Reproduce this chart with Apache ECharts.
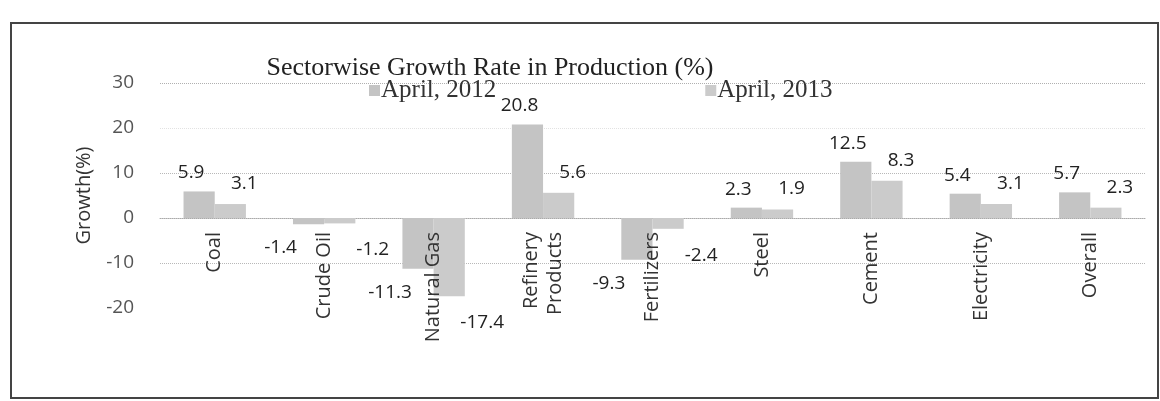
<!DOCTYPE html>
<html>
<head>
<meta charset="utf-8">
<script src="https://cdn.jsdelivr.net/npm/echarts@6/dist/echarts.min.js"></script>
<style>
html,body{margin:0;padding:0;background:#fff;}
#chart{width:1160px;height:401px;}
</style>
</head>
<body>
<div id="chart"></div>
<script>
const categories = ['Coal', 'Crude Oil', 'Natural Gas', 'Refinery\nProducts', 'Fertilizers', 'Steel', 'Cement', 'Electricity', 'Overall'];
const april2012 = [5.9, -1.4, -11.3, 20.8, -9.3, 2.3, 12.5, 5.4, 5.7];
const april2013 = [3.1, -1.2, -17.4, 5.6, -2.4, 1.9, 8.3, 3.1, 2.3];
const seriesNames = ['April, 2012', 'April, 2013'];
const titleText = 'Sectorwise Growth Rate in Production (%)';
const yAxisName = 'Growth(%)';
const yMin = -20, yMax = 30, yStep = 10;

const chart = echarts.init(document.getElementById('chart'));

function items(arr, posOff, negOff) {
  return arr.map(v => ({
    value: v,
    label: v < 0 ? { position: 'bottom', offset: negOff } : { position: 'top', offset: posOff }
  }));
}

const labelStyle = {
  show: true,
  fontFamily: 'Open Sans',
  fontSize: 19,
  color: '#222'
};

// plot area geometry
const gridTop = 83, gridBottomPx = 308, gridLeft = 160, gridRight = 15;
const zeroPx = gridTop + (gridBottomPx - gridTop) * (yMax - 0) / (yMax - yMin);

chart.setOption({
  animation: false,
  backgroundColor: '#fff',
  title: {
    text: titleText,
    left: 485,
    top: 50,
    textAlign: 'center',
    textStyle: { fontFamily: 'Liberation Serif', fontSize: 26, fontWeight: 'normal', color: '#222' }
  },
  legend: {
    left: 364,
    top: 73,
    itemWidth: 11,
    itemHeight: 11,
    itemGap: 209,
    icon: 'rect',
    textStyle: { fontFamily: 'Liberation Serif', fontSize: 25, color: '#333', padding: [0, 0, 0, -4] },
    data: seriesNames
  },
  grid: [
    { left: gridLeft, right: gridRight, top: gridTop, bottom: 401 - gridBottomPx, outerBoundsMode: 'none', containLabel: false },
    { left: gridLeft, right: gridRight, top: gridTop, bottom: 401 - zeroPx, outerBoundsMode: 'none', containLabel: false }
  ],
  xAxis: [
    {
      type: 'category',
      gridIndex: 0,
      data: categories,
      axisLine: { onZero: true, lineStyle: { color: '#aaa', type: 'dotted', width: 1 } },
      axisTick: { show: false },
      axisLabel: { show: false }
    },
    {
      type: 'category',
      gridIndex: 1,
      data: categories,
      z: 10,
      axisLine: { show: false },
      axisTick: { show: false },
      axisLabel: { rotate: 90, interval: 0, margin: 14, fontFamily: 'Open Sans', fontSize: 20, color: '#333', lineHeight: 24 }
    }
  ],
  yAxis: [
    {
      type: 'value',
      gridIndex: 0,
      min: yMin,
      max: yMax,
      interval: yStep,
      name: yAxisName,
      nameLocation: 'middle',
      nameGap: 66,
      nameTextStyle: { fontFamily: 'Open Sans', fontSize: 20, color: '#333' },
      axisLine: { show: false },
      axisTick: { show: false },
      axisLabel: { fontFamily: 'Open Sans', fontSize: 19, color: '#555', margin: 26 },
      splitLine: { lineStyle: { type: 'dotted', width: 1, color: ['rgba(0,0,0,0)', '#b8b8b8', '#b8b8b8', '#b8b8b8', '#e2e2e2', '#b0b0b0'] } }
    },
    {
      type: 'value',
      gridIndex: 1,
      min: 0,
      max: yMax,
      show: false
    }
  ],
  series: [
    {
      name: seriesNames[0],
      type: 'bar',
      xAxisIndex: 0,
      yAxisIndex: 0,
      data: items(april2012, [-8, -4], [-28, 9]),
      barGap: '0%',
      barCategoryGap: '43%',
      itemStyle: { color: '#c4c4c4' },
      label: labelStyle
    },
    {
      name: seriesNames[1],
      type: 'bar',
      xAxisIndex: 0,
      yAxisIndex: 0,
      data: items(april2013, [14, -6], [33, 12]),
      barGap: '0%',
      barCategoryGap: '43%',
      itemStyle: { color: '#cbcbcb' },
      label: labelStyle
    }
  ],
  graphic: [
    {
      type: 'rect',
      shape: { x: 11, y: 23, width: 1147, height: 375 },
      style: { fill: 'none', stroke: '#444', lineWidth: 2 },
      silent: true
    }
  ]
});
</script>
</body>
</html>
